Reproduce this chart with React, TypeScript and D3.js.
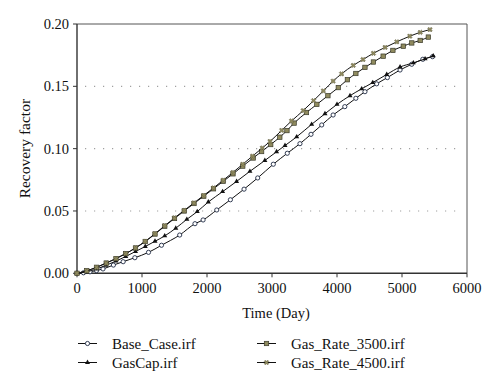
import React from "react";
import * as d3 from "d3";

const baseT = [0,100,200,300,400,560,710,890,1100,1300,1580,1815,1940,2150,2360,2570,2780,3020,3235,3430,3600,3765,3940,4120,4290,4430,4610,4775,4970,5150,5320,5470];
const baseV = [0,0.0004,0.0012,0.0022,0.0035,0.0066,0.0093,0.0125,0.0168,0.0225,0.0307,0.0398,0.0428,0.0508,0.059,0.0675,0.0765,0.0875,0.0963,0.104,0.1115,0.119,0.127,0.1337,0.1404,0.1457,0.152,0.157,0.1631,0.1677,0.1717,0.1738];

const capT = [0,150,300,450,600,750,900,1050,1200,1350,1520,1690,1850,2020,2240,2455,2660,2890,3070,3200,3380,3610,3815,4000,4200,4380,4550,4765,4970,5175,5355,5480];
const capV = [0,0.0012,0.0035,0.0065,0.0098,0.0135,0.0175,0.0215,0.0257,0.03,0.0362,0.0433,0.0495,0.0572,0.0655,0.0737,0.0818,0.0905,0.0975,0.1025,0.1095,0.1195,0.128,0.1355,0.1425,0.148,0.153,0.1595,0.1655,0.1688,0.172,0.1744];

const r3500T = [0,150,300,450,600,750,900,1050,1200,1350,1500,1650,1800,1950,2100,2250,2400,2550,2710,2840,2980,3120,3230,3340,3530,3690,3860,4020,4160,4290,4430,4560,4710,4860,5020,5150,5280,5405];
const r3500V = [0,0.002,0.0048,0.0082,0.0118,0.0158,0.0203,0.0255,0.0315,0.0378,0.044,0.05,0.056,0.0619,0.0678,0.0738,0.0798,0.086,0.0925,0.0977,0.1033,0.1092,0.1145,0.1205,0.129,0.1355,0.1425,0.149,0.1553,0.1603,0.1652,0.1695,0.1742,0.1788,0.1822,0.1848,0.1868,0.1895];

const r4500T = [0,150,300,450,600,750,900,1050,1200,1350,1500,1650,1800,1950,2100,2250,2400,2550,2700,2850,2970,3150,3300,3480,3640,3790,3940,4070,4250,4400,4560,4740,4920,5120,5280,5430];
const r4500V = [0,0.002,0.0048,0.0082,0.0118,0.0158,0.0204,0.0257,0.0318,0.0382,0.0445,0.0505,0.0565,0.0625,0.0685,0.0747,0.081,0.0875,0.094,0.1005,0.1058,0.1147,0.1222,0.1305,0.1385,0.1463,0.1542,0.16,0.1668,0.1715,0.1765,0.1812,0.1857,0.1902,0.1933,0.1955];

const xTicks = [0, 1000, 2000, 3000, 4000, 5000, 6000];
const yTicks = [0, 0.05, 0.1, 0.15, 0.2];
const gridTicks = [0.05, 0.1, 0.15];
const seriesNames = ["Base_Case.irf", "GasCap.irf", "Gas_Rate_3500.irf", "Gas_Rate_4500.irf"];

const FONT = "'Liberation Serif', 'DejaVu Serif', serif";
const OLIVE = "#8f8a5e";

type Kind = "circle" | "triangle" | "square" | "x";

function Marker({ kind, x, y }: { kind: Kind; x: number; y: number }) {
  if (kind === "circle")
    return <circle cx={x} cy={y} r={2.1} fill="#fff" stroke="#1f2a44" strokeWidth={0.9} />;
  if (kind === "triangle") {
    const p = d3.symbol().type(d3.symbolTriangle).size(11)();
    return <path d={p || ""} transform={`translate(${x},${y})`} fill="#111" />;
  }
  if (kind === "square")
    return <rect x={x - 2.2} y={y - 2.2} width={4.4} height={4.4} fill={OLIVE} stroke="#3a3a2a" strokeWidth={0.7} />;
  const p = d3.symbol().type(d3.symbolCross).size(14)();
  return <path d={p || ""} transform={`translate(${x},${y}) rotate(45)`} fill={OLIVE} stroke="#55533c" strokeWidth={0.4} />;
}

export default function App() {
  const W = 500, H = 389;
  const x = d3.scaleLinear().domain([0, 6000]).range([77, 467]);
  const y = d3.scaleLinear().domain([0, 0.2]).range([273.3, 24]);

  const series: { t: number[]; v: number[]; kind: Kind }[] = [
    { t: baseT, v: baseV, kind: "circle" },
    { t: capT, v: capV, kind: "triangle" },
    { t: r3500T, v: r3500V, kind: "square" },
    { t: r4500T, v: r4500V, kind: "x" },
  ];

  const line = d3
    .line<[number, number]>()
    .x((d) => x(d[0]))
    .y((d) => y(d[1]))
    .curve(d3.curveMonotoneX);

  const legendPos = [
    { lx: 78, ly: 343.5 },
    { lx: 78, ly: 362.5 },
    { lx: 257, ly: 343.5 },
    { lx: 257, ly: 362.5 },
  ];

  return (
    <svg width={W} height={H} style={{ position: "absolute", left: 0, top: 0, background: "#fff" }} fontFamily={FONT}>
      <rect x={0} y={0} width={W} height={H} fill="#fff" />
      {gridTicks.map((g) => (
        <line key={g} x1={x(0) + 8} x2={x(6000) - 4} y1={y(g)} y2={y(g)} stroke="#a0a0a0" strokeWidth={1.1} strokeDasharray="1.2 7.8" />
      ))}
      <line x1={x(0)} x2={x(6000)} y1={y(0.2)} y2={y(0.2)} stroke="#555" strokeWidth={1} />
      <line x1={x(6000)} x2={x(6000)} y1={y(0.2)} y2={y(0)} stroke="#555" strokeWidth={1} />
      <line x1={x(0)} x2={x(0)} y1={y(0.2)} y2={y(0)} stroke="#333" strokeWidth={1.4} />
      <line x1={x(0)} x2={x(6000)} y1={y(0)} y2={y(0)} stroke="#333" strokeWidth={1.4} />
      {yTicks.map((t) => (
        <g key={t}>
          <line x1={x(0) - 4} x2={x(0)} y1={y(t)} y2={y(t)} stroke="#333" strokeWidth={1} />
          <text x={x(0) - 8} y={y(t) + 5} textAnchor="end" fontSize={14.5} fill="#111">
            {d3.format(".2f")(t)}
          </text>
        </g>
      ))}
      {xTicks.map((t) => (
        <g key={t}>
          <line x1={x(t)} x2={x(t)} y1={y(0)} y2={y(0) + 4} stroke="#333" strokeWidth={1} />
          <text x={x(t)} y={y(0) + 20} textAnchor="middle" fontSize={14.5} fill="#111">
            {t}
          </text>
        </g>
      ))}
      <text x={(x(0) + x(6000)) / 2 + 4} y={318} textAnchor="middle" fontSize={14.5} fill="#111">
        Time (Day)
      </text>
      <text transform={`translate(30,${(y(0) + y(0.2)) / 2}) rotate(-90)`} textAnchor="middle" fontSize={15.5} fill="#111">
        Recovery factor
      </text>
      {series.map((s, i) => {
        const pts: [number, number][] = s.t.map((t, j) => [t, s.v[j]]);
        return (
          <g key={i}>
            <path d={line(pts) || ""} fill="none" stroke="#111" strokeWidth={1} />
            {pts.map((p, j) => (
              <Marker key={j} kind={s.kind} x={x(p[0])} y={y(p[1])} />
            ))}
          </g>
        );
      })}
      {seriesNames.map((n, i) => {
        const { lx, ly } = legendPos[i];
        return (
          <g key={n}>
            <line x1={lx} x2={lx + 19} y1={ly} y2={ly} stroke="#111" strokeWidth={1} />
            <Marker kind={series[i].kind} x={lx + 9.5} y={ly} />
            <text x={lx + 34} y={ly + 5} fontSize={15} fill="#111">
              {n}
            </text>
          </g>
        );
      })}
    </svg>
  );
}
